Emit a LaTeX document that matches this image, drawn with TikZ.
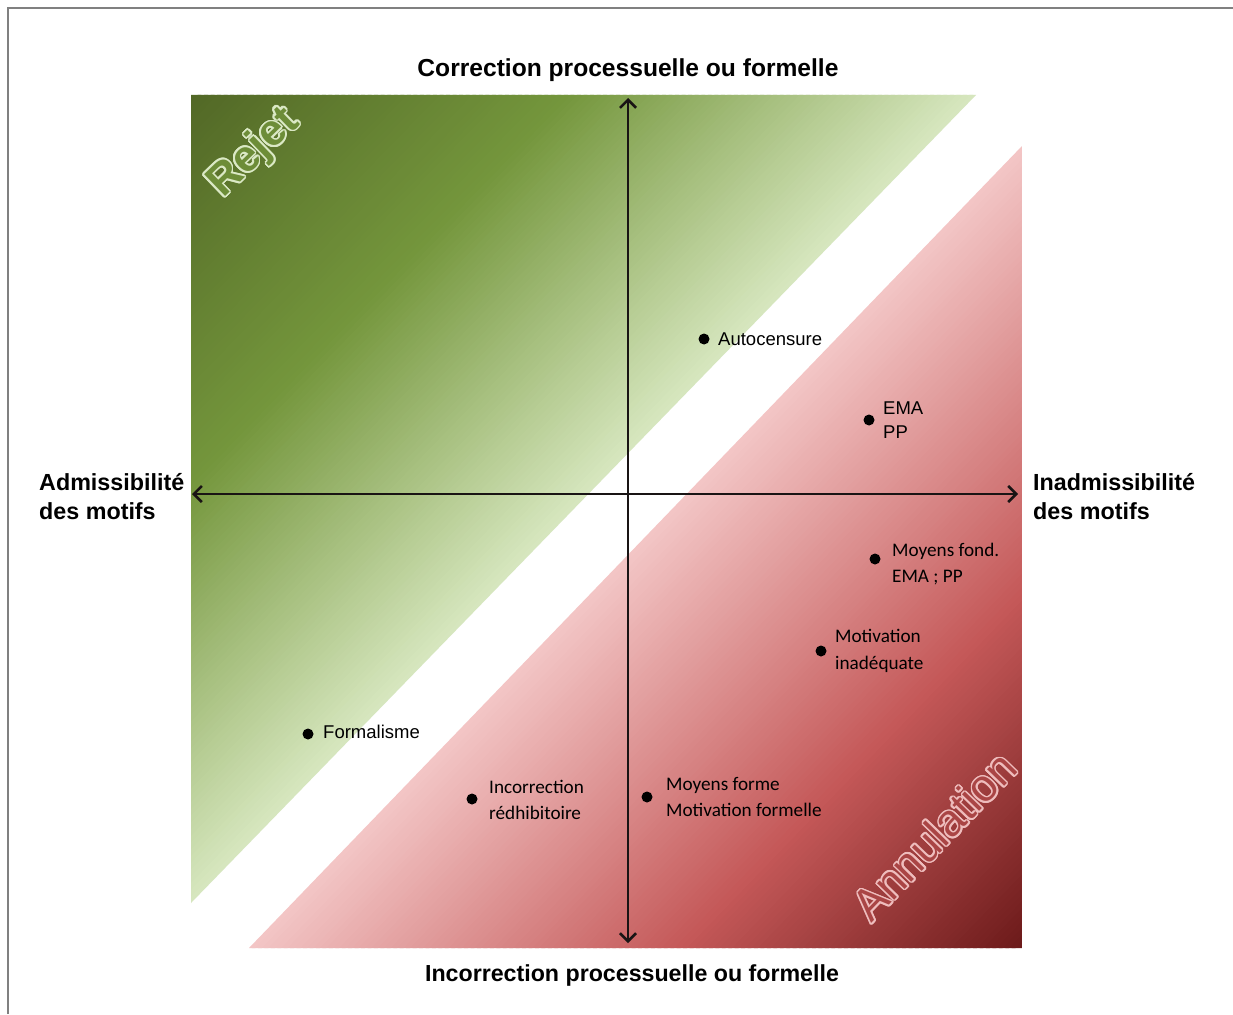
\documentclass[tikz,border=0pt]{standalone}
\usepackage{fontspec}
\setmainfont{Liberation Sans}
\newfontfamily\calib{Carlito}
\usetikzlibrary{calc,arrows.meta}

% gradient stops
\definecolor{gA}{RGB}{82,104,38}
\definecolor{gB}{RGB}{116,150,60}
\definecolor{gC}{RGB}{215,231,191}
\definecolor{rA}{RGB}{108,26,26}
\definecolor{rB}{RGB}{196,88,88}
\definecolor{rC}{RGB}{243,198,198}
\definecolor{framegray}{RGB}{128,128,128}
\definecolor{axisc}{RGB}{25,20,20}

\tikzset{
  axislabel/.style={inner sep=0pt, font=\bfseries\fontsize{23.3}{29}\selectfont},
  ptlabel/.style={inner sep=0pt, align=left, font=\fontsize{18.5}{24}\selectfont},
  ptlabelc/.style={inner sep=0pt, align=left, font=\calib\fontsize{19.2}{26.5}\selectfont},
  ptdot/.style={circle, fill=black, inner sep=0pt, minimum size=11pt},
  axisarrow/.style={line width=2.6pt, color=axisc,
    {Straight Barb[length=8pt,width=16pt]}-{Straight Barb[length=8pt,width=16pt]}},
}

% fill a right triangle (corner #1, legs to #2 and #3) with strips parallel
% to its hypotenuse; colour runs #4 -> #5 -> #6, #5 placed at fraction #7
\newcommand\stripfill[7]{%
  \begin{scope}
    \clip (#1) -- (#2) -- (#3) -- cycle;
    \foreach \i in {0,...,119} {
      \pgfmathsetmacro\ta{\i/120}
      \pgfmathsetmacro\tb{(\i+1.6)/120}
      \pgfmathsetmacro\tm{(\i+0.5)/120}
      \ifdim \tm pt < #7pt
        \pgfmathsetmacro\pc{100*(1-\tm/#7)}
        \colorlet{stripc}{#4!\pc!#5}
      \else
        \pgfmathsetmacro\pc{100*(1-(\tm-#7)/(1-#7))}
        \colorlet{stripc}{#5!\pc!#6}
      \fi
      \fill[stripc] ($(#1)!\ta!(#2)$) -- ($(#1)!\tb!(#2)$)
        -- ($(#1)!\tb!(#3)$) -- ($(#1)!\ta!(#3)$) -- cycle;
    }
  \end{scope}}

% outlined, rotated zone title: light copies around, coloured text on top
\newcommand\zonetitle[7]{%
  \foreach \a in {0,20,...,340}
    \node[rotate=#2, text=#3, inner sep=0pt, font=#5] at ($(#1)+(\a:1.6)$) {#6};
  \node[rotate=#2, text=#4, inner sep=0pt, font=#5] (#7) at (#1) {#6};}

\begin{document}
\begin{tikzpicture}[x=1pt,y=-1pt]
  \useasboundingbox (0,0) rectangle (1233,1014);
  \fill[white] (0,0) rectangle (1233,1014);

  % frame
  \draw[framegray, line width=2.8pt] (8,1014) -- (8,8) -- (1233,8);

  % triangles
  \coordinate (gcorner) at (191,95);
  \coordinate (gtop) at (976,95);
  \coordinate (gbot) at (191,903);
  \coordinate (rcorner) at (1022,948);
  \coordinate (rtop) at (1022,146);
  \coordinate (rbot) at (249,948);
  \stripfill{gcorner}{gtop}{gbot}{gA}{gB}{gC}{0.48}
  \stripfill{rcorner}{rbot}{rtop}{rA}{rB}{rC}{0.44}

  % zone titles
  \coordinate (rejetpos) at (254,153);
  \coordinate (annulpos) at (934,836);
  \zonetitle{rejetpos}{44}{gC!90!white}{gB!80!gA}{\bfseries\fontsize{44}{44}\selectfont}{Rejet}{rejet}
  \zonetitle{annulpos}{46}{rC!92!rB}{rB!70!rA}{\fontsize{45}{45}\selectfont}{Annulation}{annul}

  % axes
  \coordinate (ytop) at (628,98);
  \coordinate (ybot) at (628,943);
  \coordinate (xleft) at (192,494);
  \coordinate (xright) at (1018,494);
  \draw[axisarrow] (ybot) -- (ytop);
  \draw[axisarrow] (xleft) -- (xright);

  % axis labels
  \node[axislabel, anchor=base, font=\bfseries\fontsize{24.6}{29}\selectfont]
    (ttop) at (628,77) {Correction processuelle ou formelle};
  \node[axislabel, anchor=base, font=\bfseries\fontsize{23.2}{29}\selectfont]
    (tbot) at (632,981) {Incorrection processuelle ou formelle};
  \node[axislabel, anchor=west, align=left] (tleft) at (39,497) {Admissibilité\\des motifs};
  \node[axislabel, anchor=west, align=left] (tright) at (1033,497) {Inadmissibilité\\des motifs};

  % points
  \node[ptdot] (p1) at (704,339) {};
  \node[ptlabel, anchor=west] (l1) at (718,339) {Autocensure};
  \node[ptdot] (p2) at (869,420) {};
  \node[ptlabel, anchor=west] (l2) at (883,420) {EMA\\PP};
  \node[ptdot] (p3) at (875,559) {};
  \node[ptlabelc, anchor=west] (l3) at (892,564) {Moyens fond.\\EMA ; PP};
  \node[ptdot] (p4) at (821,651) {};
  \node[ptlabelc, anchor=west] (l4) at (835,651) {Motivation\\inadéquate};
  \node[ptdot] (p5) at (308,734) {};
  \node[ptlabel, anchor=west] (l5) at (323,732) {Formalisme};
  \node[ptdot] (p6) at (472,799) {};
  \node[ptlabelc, anchor=west] (l6) at (489,800) {Incorrection\\rédhibitoire};
  \node[ptdot] (p7) at (647,797) {};
  \node[ptlabelc, anchor=west] (l7) at (666,797) {Moyens forme\\Motivation formelle};
\end{tikzpicture}
\end{document}
